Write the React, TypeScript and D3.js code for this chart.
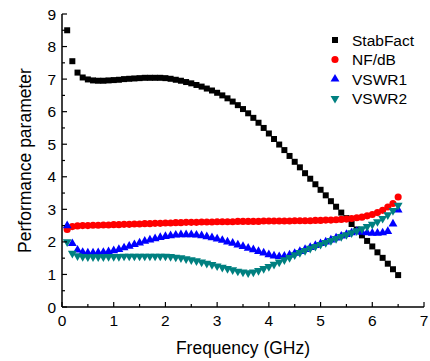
import React from "react";
import * as d3 from "d3";

const freq = [0.1,0.2,0.3,0.4,0.5,0.6,0.7,0.8,0.9,1.0,1.1,1.2,1.3,1.4,1.5,1.6,1.7,1.8,1.9,2.0,2.1,2.2,2.3,2.4,2.5,2.6,2.7,2.8,2.9,3.0,3.1,3.2,3.3,3.4,3.5,3.6,3.7,3.8,3.9,4.0,4.1,4.2,4.3,4.4,4.5,4.6,4.7,4.8,4.9,5.0,5.1,5.2,5.3,5.4,5.5,5.6,5.7,5.8,5.9,6.0,6.1,6.2,6.3,6.4,6.5];

const stabFact = [8.5,7.55,7.2,7.05,6.99,6.96,6.95,6.95,6.96,6.97,6.98,7.0,7.01,7.02,7.03,7.04,7.04,7.04,7.04,7.03,7.01,6.98,6.95,6.91,6.87,6.82,6.77,6.71,6.65,6.58,6.5,6.41,6.31,6.2,6.08,5.95,5.81,5.66,5.5,5.33,5.16,4.99,4.82,4.64,4.46,4.29,4.11,3.94,3.77,3.6,3.43,3.25,3.08,2.9,2.73,2.55,2.38,2.2,2.03,1.86,1.68,1.51,1.33,1.16,0.98];

const nfDb = [2.38,2.47,2.49,2.5,2.5,2.51,2.51,2.52,2.52,2.53,2.53,2.54,2.54,2.55,2.55,2.56,2.56,2.57,2.57,2.58,2.58,2.59,2.59,2.6,2.6,2.6,2.61,2.61,2.61,2.62,2.62,2.62,2.62,2.63,2.63,2.63,2.63,2.63,2.64,2.64,2.64,2.64,2.64,2.64,2.65,2.65,2.65,2.65,2.66,2.66,2.67,2.67,2.68,2.69,2.7,2.72,2.74,2.76,2.8,2.84,2.9,2.97,3.07,3.18,3.38];

const vswr1 = [2.5,1.95,1.75,1.68,1.66,1.66,1.67,1.68,1.7,1.73,1.77,1.82,1.87,1.92,1.97,2.02,2.06,2.1,2.14,2.17,2.19,2.21,2.22,2.22,2.22,2.21,2.19,2.16,2.13,2.09,2.05,2.0,1.96,1.91,1.86,1.81,1.76,1.71,1.66,1.61,1.57,1.55,1.56,1.6,1.65,1.71,1.77,1.83,1.89,1.95,2.0,2.06,2.12,2.18,2.23,2.28,2.32,2.3,2.28,2.27,2.27,2.28,2.32,2.55,2.98];

const vswr2 = [2.0,1.65,1.57,1.55,1.54,1.54,1.54,1.54,1.55,1.55,1.55,1.56,1.56,1.56,1.56,1.56,1.56,1.56,1.56,1.56,1.55,1.53,1.51,1.48,1.45,1.42,1.38,1.34,1.3,1.26,1.22,1.18,1.14,1.1,1.07,1.05,1.07,1.12,1.18,1.24,1.31,1.38,1.45,1.52,1.6,1.67,1.73,1.8,1.86,1.92,1.98,2.04,2.1,2.16,2.22,2.28,2.34,2.4,2.47,2.54,2.62,2.72,2.83,2.96,3.12];

const seriesNames = ["StabFact", "NF/dB", "VSWR1", "VSWR2"];
const seriesColors = ["#000000", "#ff0000", "#0000ff", "#008080"];
const xTicks = [0, 1, 2, 3, 4, 5, 6, 7];
const yTicks = [0, 1, 2, 3, 4, 5, 6, 7, 8, 9];

const FONT = "'Liberation Sans', Arial, Helvetica, sans-serif";

export default function App() {
  const W = 430, H = 361;
  const x = d3.scaleLinear().domain([0, 7]).range([62, 424]);
  const y = d3.scaleLinear().domain([0, 9]).range([307, 14]);

  const symbols = [
    d3.symbol().type(d3.symbolSquare).size(36)(),
    d3.symbol().type(d3.symbolCircle).size(40)(),
    d3.symbol().type(d3.symbolTriangle).size(34)(),
    d3.symbol().type(d3.symbolTriangle).size(34)(),
  ];
  const rotations = [0, 0, 0, 180];
  const allSeries = [stabFact, nfDb, vswr1, vswr2];

  const xMinor = d3.range(0, 7.01, 0.5).filter((v) => v % 1 !== 0);
  const yMinor = d3.range(0, 9.01, 0.5).filter((v) => v % 1 !== 0);

  return (
    <svg width={W} height={H} style={{ position: "absolute", left: 0, top: 0, background: "#fff" }} fontFamily={FONT}>
      {/* data */}
      {allSeries.map((vals, si) => (
        <g key={si} fill={seriesColors[si]}>
          {vals.map((v, i) => (
            <path
              key={i}
              d={symbols[si] as string}
              transform={`translate(${x(freq[i])},${y(v)}) rotate(${rotations[si]})`}
            />
          ))}
        </g>
      ))}

      {/* axes */}
      <g stroke="#000" strokeWidth={1.5} fill="none">
        <line x1={x(0)} x2={x(7)} y1={y(0)} y2={y(0)} />
        <line x1={x(0)} x2={x(0)} y1={y(0)} y2={y(9)} />
        {xTicks.map((t) => (
          <line key={"xt" + t} x1={x(t)} x2={x(t)} y1={y(0)} y2={y(0) - 5} strokeWidth={1.2} />
        ))}
        {xMinor.map((t) => (
          <line key={"xm" + t} x1={x(t)} x2={x(t)} y1={y(0)} y2={y(0) - 3} strokeWidth={1.2} />
        ))}
        {yTicks.map((t) => (
          <line key={"yt" + t} x1={x(0)} x2={x(0) + 5} y1={y(t)} y2={y(t)} strokeWidth={1.2} />
        ))}
        {yMinor.map((t) => (
          <line key={"ym" + t} x1={x(0)} x2={x(0) + 3} y1={y(t)} y2={y(t)} strokeWidth={1.2} />
        ))}
      </g>
      <g fontSize={15.5} fill="#000">
        {xTicks.map((t) => (
          <text key={"xl" + t} x={x(t)} y={326} textAnchor="middle">{t}</text>
        ))}
        {yTicks.map((t) => (
          <text key={"yl" + t} x={56} y={y(t) + 5.5} textAnchor="end">{t}</text>
        ))}
      </g>
      <text x={(x(0) + x(7)) / 2} y={354} textAnchor="middle" fontSize={17.5} fill="#000">Frequency (GHz)</text>
      <text transform={`translate(31,${(y(0) + y(9)) / 2}) rotate(-90)`} textAnchor="middle" fontSize={17.5} fill="#000">Performance parameter</text>

      {/* legend */}
      {seriesNames.map((name, i) => (
        <g key={name} transform={`translate(0,${40 + i * 19.5})`}>
          <path d={symbols[i] as string} fill={seriesColors[i]} transform={`translate(335,0) rotate(${rotations[i]})`} />
          <text x={352} y={5.5} fontSize={15.5} fill="#000">{name}</text>
        </g>
      ))}
    </svg>
  );
}
